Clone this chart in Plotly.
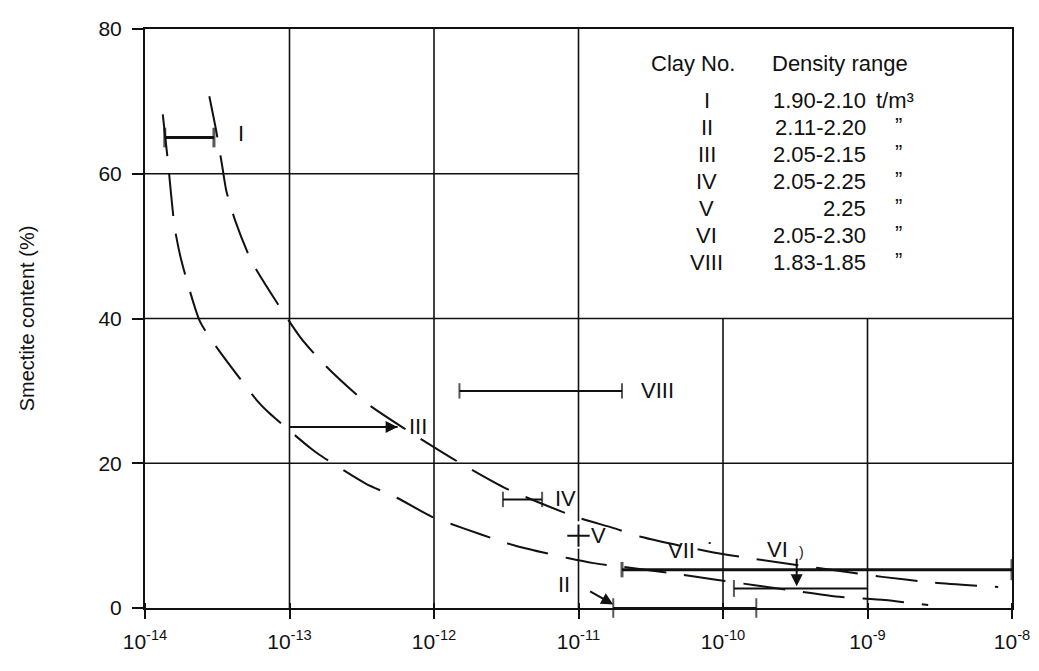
import math
import plotly.graph_objects as go

# ---------------- data ----------------
# dashed boundary curves (log10 of hydraulic conductivity, smectite %)
curve_a_logx = [-13.877, -13.84, -13.795, -13.747, -13.62, -13.50, -13.226, -13.144,
                -12.856, -12.788, -12.473, -12.253, -12.014, -11.795, -11.548,
                -11.418, -11.075, -10.897, -10.70, -10.356, -10.048, -9.51, -9.22,
                -8.88, -8.58]
curve_a_y = [68.2, 61.4, 52.6, 47.9, 39.6, 35.9, 28.7, 27.0, 22.1, 21.1, 17.2, 15.2,
             12.6, 11.0, 9.3, 8.5, 6.9, 6.2, 5.7, 4.8, 3.9, 2.4, 1.6, 1.1, 0.4]

curve_b_logx = [-13.555, -13.507, -13.466, -13.438, -13.377, -13.26, -12.925, -12.747,
                -12.473, -12.205, -11.842, -11.5, -11.021, -10.767, -10.562, -10.075,
                -9.788, -8.897, -8.534, -8.096]
curve_b_y = [70.7, 65.9, 61.1, 57.7, 53.6, 47.8, 37.4, 33.4, 28.4, 24.8, 20.3, 16.5,
             12.6, 11.1, 9.8, 7.7, 6.8, 4.3, 3.5, 2.9]

# measured ranges (conductivity range at a smectite content)
bar_names = ["I", "II", "III", "IV", "VI", "VII", "VIII"]
bar_lo = [1.37e-14, 1.74e-11, 1.0e-13, 3.0e-12, 1.19e-10, 2.0e-11, 1.5e-12]
bar_hi = [3.0e-14, 1.7e-10, 5.6e-13, 5.6e-12, 1.0e-9, 1.0e-8, 2.0e-11]
bar_y = [65, 0, 25, 15, 2.7, 5.3, 30]

# single point
point_v_x = [1.0e-11]
point_v_y = [10]

# labels in the plot: name, log10 x, y
label_names = ["I", "III", "IV", "V", "VII  \u02d9", "VI", "VIII", "II"]
label_logx = [-13.336, -12.11, -11.09, -10.86, -10.22, -9.62, -10.45, -11.10]
label_y = [65.5, 25.1, 15.1, 10.0, 7.9, 8.1, 30.1, 3.3]

# table
clay_no = ["I", "II", "III", "IV", "V", "VI", "VIII"]
density = ["1.90-2.10", "2.11-2.20", "2.05-2.15", "2.05-2.25", "2.25", "2.05-2.30", "1.83-1.85"]
unit = ["t/m\u00b3", "\u201d", "\u201d", "\u201d", "\u201d", "\u201d", "\u201d"]

x_tickvals = [1e-14, 1e-13, 1e-12, 1e-11, 1e-10, 1e-9, 1e-8]
x_ticktext = ["10<sup>-14</sup>", "10<sup>-13</sup>", "10<sup>-12</sup>", "10<sup>-11</sup>",
              "10<sup>-10</sup>", "10<sup>-9</sup>", "10<sup>-8</sup>"]
y_tickvals = [0, 20, 40, 60, 80]

FONT = "Liberation Sans, Arial, Helvetica, sans-serif"
BLACK = "#111111"
FS = 22

# the page body has an 8px default margin; size the figure so the plot area lands
# at x 145..1020, y 17..608 of the 1039x671 window
BODY = 8
W, H = 1039 - BODY, 671 - BODY
L, R, T, B = 145 - BODY, 19, 17 - BODY, 63
PW = W - L - R
PH = H - T - B

fig = go.Figure()

# partial grid (the top-right quadrant holds the table; gap in the 1e-11 line at point V)
grid_h = [(20, x_tickvals[0], x_tickvals[-1]), (40, x_tickvals[0], x_tickvals[-1]),
          (60, x_tickvals[0], x_tickvals[3])]
grid_v = [(x_tickvals[1], 0, 80), (x_tickvals[2], 0, 80),
          (x_tickvals[3], 0, 8.2), (x_tickvals[3], 12.0, 80),
          (x_tickvals[4], 0, 40), (x_tickvals[5], 0, 40)]
for yv, x0, x1 in grid_h:
    fig.add_trace(go.Scatter(x=[x0, x1], y=[yv, yv], mode="lines",
                             line=dict(color=BLACK, width=1.6),
                             hoverinfo="skip", showlegend=False))
for xv, y0, y1 in grid_v:
    fig.add_trace(go.Scatter(x=[xv, xv], y=[y0, y1], mode="lines",
                             line=dict(color=BLACK, width=1.6),
                             hoverinfo="skip", showlegend=False))

# dashed curves
for lx, yy in [(curve_a_logx, curve_a_y), (curve_b_logx, curve_b_y)]:
    fig.add_trace(go.Scatter(
        x=[10 ** v for v in lx], y=yy, mode="lines",
        line=dict(color=BLACK, width=2, dash="42px,18px", shape="spline", smoothing=0.6),
        hoverinfo="skip", showlegend=False))

# end cap sizes per bar (left, right)
caps = {
    "I": (14, 14),
    "II": (14, 14),
    "III": (0, 0),
    "IV": (11, 11),
    "VI": (12, 0),
    "VII": (11, 15),
    "VIII": (11, 11),
}
for name, lo, hi, yv in zip(bar_names, bar_lo, bar_hi, bar_y):
    z0, z1 = caps[name]
    w = 3 if name in ("I", "VII") else 2
    fig.add_trace(go.Scatter(
        x=[lo, hi], y=[yv, yv], mode="lines+markers",
        line=dict(color=BLACK, width=w),
        marker=dict(symbol="line-ns-open", size=[z0, z1], color=BLACK,
                    line=dict(color=BLACK, width=w)),
        cliponaxis=False, hoverinfo="skip", showlegend=False))

fig.add_trace(go.Scatter(
    x=point_v_x, y=point_v_y, mode="markers",
    marker=dict(symbol="cross-thin-open", size=16, color=BLACK, line=dict(color=BLACK, width=2)),
    hoverinfo="skip", showlegend=False))

annotations = []
for t, lx, yv in zip(label_names, label_logx, label_y):
    annotations.append(dict(x=lx, y=yv, xref="x", yref="y", text=t, showarrow=False,
                            xanchor="center", yanchor="middle",
                            font=dict(family=FONT, size=FS, color=BLACK)))

# arrowhead on III
annotations.append(dict(x=math.log10(bar_hi[2]), y=bar_y[2], xref="x", yref="y",
                        ax=math.log10(bar_hi[2]) - 0.2, ay=bar_y[2], axref="x", ayref="y",
                        text="", showarrow=True, arrowhead=2, arrowsize=1.2, arrowwidth=2,
                        arrowcolor=BLACK))
# arrow from II label
annotations.append(dict(x=math.log10(bar_lo[1]), y=0.5, xref="x", yref="y",
                        ax=-10.93, ay=2.4, axref="x", ayref="y",
                        text="", showarrow=True, arrowhead=2, arrowsize=1.2, arrowwidth=2,
                        arrowcolor=BLACK))
# arrow from VI label down to its bar
annotations.append(dict(x=-9.49, y=bar_y[4] + 0.3, xref="x", yref="y",
                        ax=-9.49, ay=7.0, axref="x", ayref="y",
                        text="", showarrow=True, arrowhead=2, arrowsize=1.2, arrowwidth=2,
                        arrowcolor=BLACK))
annotations.append(dict(x=-9.46, y=7.8, xref="x", yref="y", text=")", showarrow=False,
                        xanchor="center", yanchor="middle",
                        font=dict(family=FONT, size=14, color=BLACK)))

# table (positions given in window pixels)
def px(xp):
    return (xp - BODY - L) / PW
def py(yp):
    return (H - B - (yp - BODY)) / PH

tfont = dict(family=FONT, size=FS, color=BLACK)
annotations.append(dict(x=px(698), y=py(52), xref="paper", yref="paper", text="Clay No.",
                        xanchor="center", yanchor="middle", showarrow=False, font=tfont))
annotations.append(dict(x=px(776), y=py(52), xref="paper", yref="paper", text="Density range",
                        xanchor="left", yanchor="middle", showarrow=False, font=tfont))
for i, (c, d, u) in enumerate(zip(clay_no, density, unit)):
    yy = 90 + 27.5 * i
    annotations.append(dict(x=px(712), y=py(yy), xref="paper", yref="paper", text=c,
                            xanchor="center", yanchor="middle", showarrow=False, font=tfont))
    annotations.append(dict(x=px(875), y=py(yy), xref="paper", yref="paper", text=d,
                            xanchor="right", yanchor="middle", showarrow=False, font=tfont))
    if i == 0:
        annotations.append(dict(x=px(881), y=py(yy), xref="paper", yref="paper", text=u,
                                xanchor="left", yanchor="middle", showarrow=False, font=tfont))
    else:
        annotations.append(dict(x=px(905), y=py(yy - 2), xref="paper", yref="paper", text=u,
                                xanchor="center", yanchor="middle", showarrow=False,
                                font=tfont))

fig.update_layout(
    width=W, height=H,
    margin=dict(l=L, r=R, t=T, b=B),
    paper_bgcolor="white", plot_bgcolor="white",
    font=dict(family=FONT, size=FS, color=BLACK),
    annotations=annotations,
    showlegend=False,
)
fig.update_xaxes(type="log", range=[-14, -8], showgrid=False, zeroline=False,
                 showline=True, linecolor=BLACK, linewidth=2, mirror=True,
                 ticks="outside", ticklen=9, tickwidth=1.5, tickcolor=BLACK,
                 ticklabelstandoff=5,
                 tickvals=x_tickvals, ticktext=x_ticktext, ticklabeloverflow="allow",
                 minor=dict(tickvals=x_tickvals, ticks="inside", ticklen=5,
                            tickwidth=1.5, tickcolor=BLACK, showgrid=False),
                 tickfont=dict(family=FONT, size=21, color=BLACK))
fig.update_yaxes(range=[0, 80], showgrid=False, zeroline=False,
                 showline=True, linecolor=BLACK, linewidth=2, mirror=True,
                 ticks="outside", ticklen=11, tickwidth=1.5, tickcolor=BLACK,
                 ticklabelstandoff=6, ticklabeloverflow="allow",
                 tickvals=y_tickvals, tickfont=dict(family=FONT, size=21, color=BLACK),
                 title=dict(text="Smectite content (%)", standoff=58,
                            font=dict(family=FONT, size=20, color=BLACK)))

fig.write_html("out.html")
